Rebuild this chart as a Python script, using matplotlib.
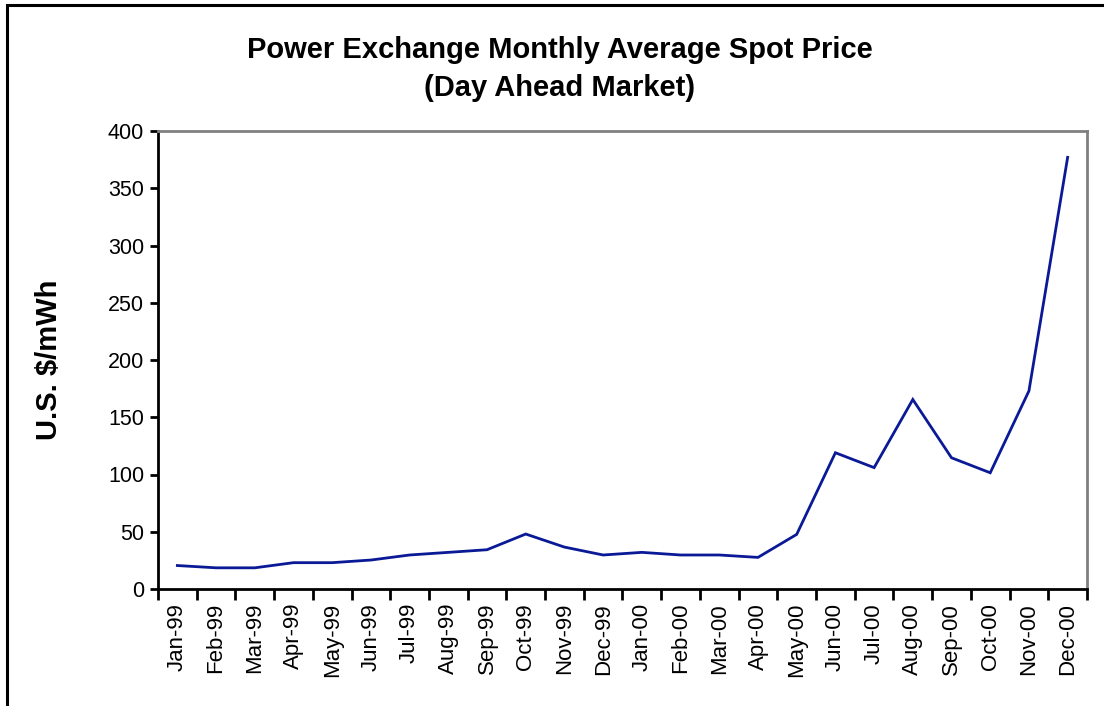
import matplotlib.pyplot as plt
import numpy as np
from matplotlib.patches import Rectangle

plt.rcParams['font.family'] = ['Liberation Sans', 'DejaVu Sans']

# monthly average spot price, US $/mWh
months = ['Jan-99', 'Feb-99', 'Mar-99', 'Apr-99', 'May-99', 'Jun-99',
          'Jul-99', 'Aug-99', 'Sep-99', 'Oct-99', 'Nov-99', 'Dec-99',
          'Jan-00', 'Feb-00', 'Mar-00', 'Apr-00', 'May-00', 'Jun-00',
          'Jul-00', 'Aug-00', 'Sep-00', 'Oct-00', 'Nov-00', 'Dec-00']
prices = [20.5, 18.5, 18.5, 23, 23, 25.3,
          29.7, 32, 34.3, 48, 36.6, 29.7,
          32, 29.7, 29.7, 27.6, 47.7, 119,
          106, 165.5, 114.6, 101.5, 173, 377]
y_ticks = [0, 50, 100, 150, 200, 250, 300, 350, 400]

fig = plt.figure(figsize=(11.04, 7.06), dpi=100)
ax = fig.add_axes([158 / 1104, 117 / 706, 929 / 1104, 458 / 706])

x = np.arange(len(months))
ax.plot(x, prices, color='#0a1a96', linewidth=2.0, solid_joinstyle='miter')

ax.set_xlim(-0.5, len(months) - 0.5)
ax.set_ylim(0, 400)
ax.set_yticks(y_ticks)
ax.set_xticks(x)
ax.set_xticklabels(months, rotation=90, fontsize=16)
ax.set_xticks(np.arange(len(months) + 1) - 0.5, minor=True)
ax.tick_params(axis='x', which='major', length=0, pad=10)
ax.tick_params(axis='x', which='minor', length=8, width=2, direction='out', color='black')
ax.tick_params(axis='y', length=6, width=2, direction='out', labelsize=15.5, pad=4)

for side in ('left', 'bottom'):
    ax.spines[side].set_color('black')
    ax.spines[side].set_linewidth(2)
for side in ('top', 'right'):
    ax.spines[side].set_color('#808080')
    ax.spines[side].set_linewidth(2)

ax.set_ylabel('U.S. $/mWh', fontsize=21, fontweight='bold', labelpad=32)

fig.text(0.5 + 8 / 1104, 1 - 50 / 706, 'Power Exchange Monthly Average Spot Price',
         ha='center', va='center', fontsize=21, fontweight='bold')
fig.text(0.5 + 8 / 1104, 1 - 88 / 706, '(Day Ahead Market)',
         ha='center', va='center', fontsize=21, fontweight='bold')

# outer chart border, cut off at the right and bottom edges
fig.patches.append(Rectangle((7 / 1104, -0.1), 1.2, 1 - 4.5 / 706 + 0.1,
                             transform=fig.transFigure, fill=False,
                             edgecolor='black', linewidth=2.2))

fig.savefig('out.png', dpi=100)
